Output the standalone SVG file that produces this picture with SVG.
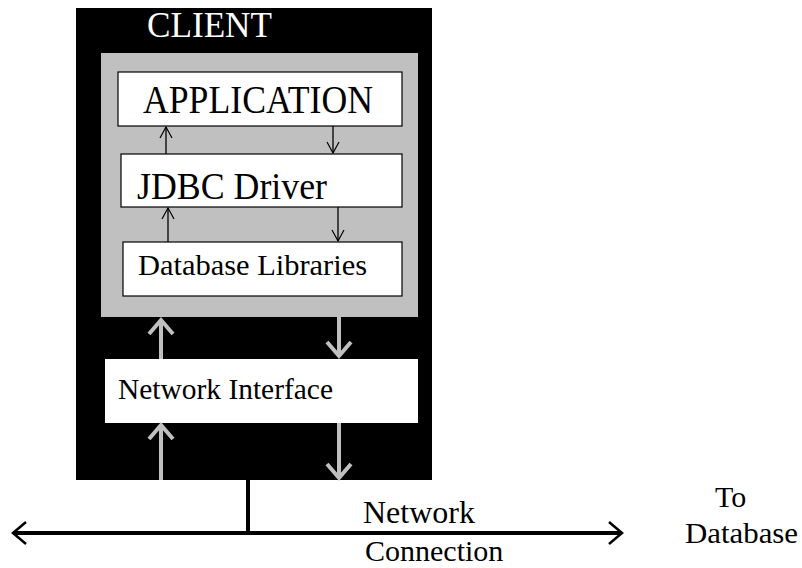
<svg xmlns="http://www.w3.org/2000/svg" width="802" height="568" viewBox="0 0 802 568">
<style>
  text { font-family: "Liberation Serif", "Times New Roman", serif; fill: #000; }
  .box { fill: #fff; stroke: #000; stroke-width: 1.2; }
  .thin { stroke: #000; stroke-width: 1.3; fill: none; }
  .gray { stroke: #c0c0c0; stroke-width: 4; fill: none; }
  .net { stroke: #000; stroke-width: 4; fill: none; }
</style>
<defs>
  <marker id="mThin" markerUnits="userSpaceOnUse" viewBox="-14 -10 16 20" refX="0" refY="0" markerWidth="16" markerHeight="20" orient="auto">
    <path d="M -11 -6 L 0 0 L -11 6" fill="none" stroke="#000" stroke-width="1.2"/>
  </marker>
  <marker id="mGray" markerUnits="userSpaceOnUse" viewBox="-18 -16 22 32" refX="0" refY="0" markerWidth="22" markerHeight="32" orient="auto">
    <path d="M -14 -12 L 0 0 L -14 12" fill="none" stroke="#c0c0c0" stroke-width="4"/>
  </marker>
  <marker id="mNet" markerUnits="userSpaceOnUse" viewBox="-16 -14 20 28" refX="0" refY="0" markerWidth="20" markerHeight="28" orient="auto-start-reverse">
    <path d="M -13 -11 L 0 0 L -13 11" fill="none" stroke="#000" stroke-width="2.5"/>
  </marker>
</defs>

<g id="client">
  <rect x="76" y="8" width="356" height="472" fill="#000"/>
  <text x="147" y="37" font-size="35" textLength="125" lengthAdjust="spacingAndGlyphs" style="fill:#fff">CLIENT</text>
</g>
<g id="client-inner">
  <rect x="101" y="53" width="317" height="264" fill="#c0c0c0"/>
</g>
<g id="application">
  <rect class="box" x="118" y="72" width="284" height="54"/>
  <text x="143" y="113" font-size="39" textLength="230" lengthAdjust="spacingAndGlyphs">APPLICATION</text>
</g>
<g id="jdbc-driver">
  <rect class="box" x="121" y="154" width="281" height="53"/>
  <text x="137" y="199" font-size="38" textLength="190" lengthAdjust="spacingAndGlyphs">JDBC Driver</text>
</g>
<g id="database-libraries">
  <rect class="box" x="123" y="242" width="279" height="54"/>
  <text x="138" y="275" font-size="30" textLength="229" lengthAdjust="spacingAndGlyphs">Database Libraries</text>
</g>
<g id="network-interface">
  <rect x="105" y="359" width="313" height="64" fill="#fff"/>
  <text x="118" y="399" font-size="30" textLength="215" lengthAdjust="spacingAndGlyphs">Network Interface</text>
</g>
<g id="labels">
  <text x="363" y="523" font-size="31" textLength="112" lengthAdjust="spacingAndGlyphs">Network</text>
  <text x="365" y="561" font-size="30">Connection</text>
  <text x="715" y="507" font-size="30">To</text>
  <text x="685" y="543" font-size="30" textLength="113" lengthAdjust="spacingAndGlyphs">Database</text>
</g>

<g id="connectors">
  <line class="thin" x1="166" y1="154" x2="166" y2="127" marker-end="url(#mThin)"/>
  <line class="thin" x1="333" y1="126" x2="333" y2="153" marker-end="url(#mThin)"/>
  <line class="thin" x1="168" y1="242" x2="168" y2="208" marker-end="url(#mThin)"/>
  <line class="thin" x1="338" y1="207" x2="338" y2="241" marker-end="url(#mThin)"/>
  <line class="gray" x1="161" y1="359" x2="161" y2="320" marker-end="url(#mGray)"/>
  <line class="gray" x1="339" y1="317" x2="339" y2="356" marker-end="url(#mGray)"/>
  <line class="gray" x1="161" y1="480" x2="161" y2="425" marker-end="url(#mGray)"/>
  <line class="gray" x1="339" y1="423" x2="339" y2="478" marker-end="url(#mGray)"/>
  <line class="net" x1="248" y1="480" x2="248" y2="533"/>
  <path class="net" d="M 13 533 L 622 533" marker-start="url(#mNet)" marker-end="url(#mNet)"/>
</g>
</svg>
